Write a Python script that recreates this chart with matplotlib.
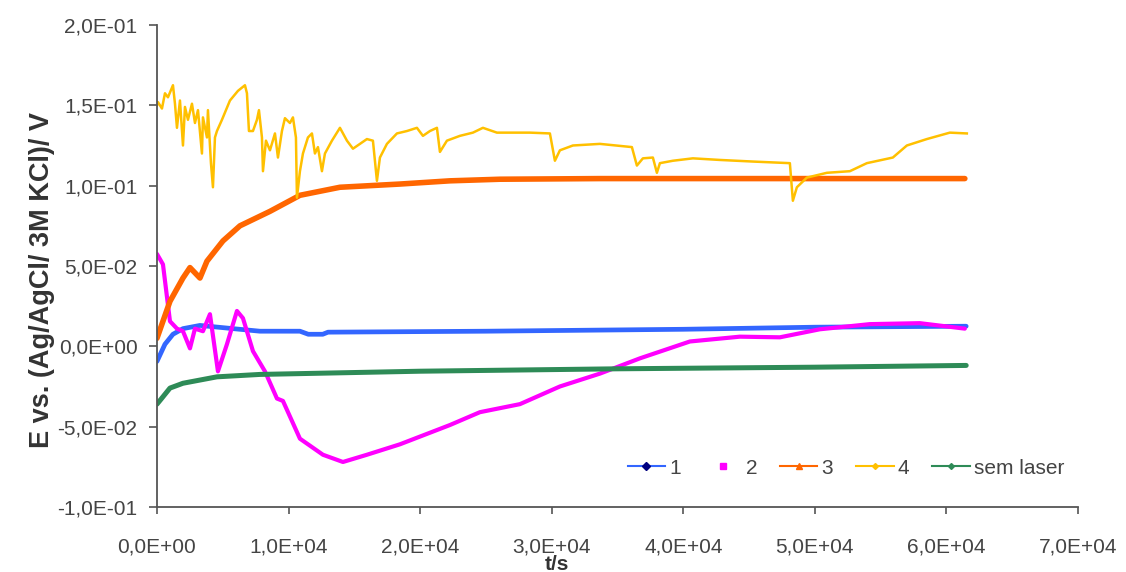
import matplotlib
matplotlib.use('Agg')
import matplotlib.pyplot as plt
from matplotlib.lines import Line2D

plt.rcParams['font.family'] = ['Liberation Sans', 'DejaVu Sans']

# series 1 (blue)
t1 = [0, 608, 1216, 1976, 3267, 5775, 7827, 10866, 11500, 12600, 13000, 25000, 40000, 50000, 61500]
e1 = [-0.0094, 0.0013, 0.0075, 0.011, 0.013, 0.011, 0.0094, 0.0094, 0.0075, 0.0075, 0.0088,
      0.0094, 0.0106, 0.0119, 0.0125]

# series 2 (magenta)
t2 = [0, 456, 988, 1520, 1976, 2508, 2888, 3495, 4027, 4635, 5319, 6079, 6535, 7295, 8207,
      9119, 9574, 10866, 12614, 14134, 15957, 18465, 22264, 24544, 27584, 30623, 33663,
      36702, 40502, 44301, 47340, 50380, 54179, 57979, 61398]
e2 = [0.0575, 0.051, 0.0156, 0.011, 0.0094, -0.0013, 0.011, 0.0094, 0.02, -0.0156, 0.0013,
      0.022, 0.0175, -0.003, -0.0156, -0.0325, -0.034, -0.0575, -0.0675, -0.072, -0.0675,
      -0.061, -0.049, -0.041, -0.036, -0.025, -0.017, -0.0075, 0.003, 0.006, 0.0056, 0.0106,
      0.0138, 0.0144, 0.011]

# series 3 (orange)
t3 = [0, 988, 1976, 2508, 3267, 3799, 5015, 6307, 8587, 10866, 13906, 18465, 22264, 26064,
      33663, 61398]
e3 = [0.005, 0.028, 0.0425, 0.049, 0.0425, 0.053, 0.0656, 0.075, 0.084, 0.094, 0.099, 0.101,
      0.103, 0.104, 0.1044, 0.1044]

# series 4 (yellow)
t4 = [0, 76, 380, 608, 836, 1216, 1368, 1520, 1748, 1976, 2128, 2356, 2660, 2888, 3116, 3419,
      3495, 3799, 3875, 4103, 4255, 4407, 4559, 4939, 5547, 6155, 6687, 6839, 6991, 7295,
      7599, 7751, 7979, 8055, 8283, 8587, 8967, 9195, 9498, 9726, 10106, 10334, 10562, 10638,
      10866, 11094, 11474, 11778, 12006, 12234, 12538, 12766, 13298, 13906, 14438, 14894,
      15426, 15957, 16413, 16717, 16945, 17477, 18237, 18997, 19757, 20213, 20745, 21277,
      21505, 22036, 23024, 24012, 24772, 25836, 27052, 28343, 29863, 30243, 30623, 31611,
      33663, 36094, 36474, 36930, 37690, 37994, 38222, 39210, 40729, 42781, 45289, 48100,
      48328, 48632, 49392, 50912, 52660, 53951, 55927, 56991, 58511, 60258, 61550]
e4 = [0.150, 0.152, 0.148, 0.1575, 0.155, 0.1625, 0.151, 0.136, 0.153, 0.125, 0.149, 0.141,
      0.151, 0.139, 0.147, 0.120, 0.1425, 0.130, 0.147, 0.114, 0.099, 0.130, 0.134, 0.141,
      0.153, 0.159, 0.1625, 0.1575, 0.134, 0.134, 0.141, 0.147, 0.130, 0.109, 0.128, 0.122,
      0.1325, 0.1175, 0.134, 0.142, 0.139, 0.1425, 0.130, 0.0925, 0.109, 0.120, 0.130,
      0.1325, 0.120, 0.124, 0.109, 0.120, 0.128, 0.136, 0.128, 0.123, 0.126, 0.129, 0.128,
      0.103, 0.1175, 0.126, 0.1325, 0.134, 0.136, 0.131, 0.134, 0.136, 0.121, 0.128, 0.131,
      0.133, 0.136, 0.133, 0.133, 0.133, 0.1325, 0.1155, 0.122, 0.125, 0.126, 0.124, 0.1125,
      0.117, 0.1175, 0.108, 0.114, 0.1155, 0.117, 0.116, 0.115, 0.114, 0.0906, 0.099, 0.105,
      0.108, 0.109, 0.114, 0.1175, 0.125, 0.129, 0.133, 0.1325]

# sem laser (green)
t5 = [0, 300, 988, 1976, 4559, 7827, 10866, 20000, 35000, 50000, 61500]
e5 = [-0.036, -0.033, -0.026, -0.023, -0.019, -0.0175, -0.017, -0.0155, -0.014, -0.013, -0.0119]

xticks = [0, 10000, 20000, 30000, 40000, 50000, 60000, 70000]
xlabels = ['0,0E+00', '1,0E+04', '2,0E+04', '3,0E+04', '4,0E+04', '5,0E+04', '6,0E+04', '7,0E+04']
yticks = [-0.1, -0.05, 0.0, 0.05, 0.1, 0.15, 0.2]
ylabels = ['-1,0E-01', '-5,0E-02', '0,0E+00', '5,0E-02', '1,0E-01', '1,5E-01', '2,0E-01']

c1, c2, c3, c4, c5 = '#3366FF', '#FF00FF', '#FF6600', '#FFC000', '#2E8B57'

fig = plt.figure(figsize=(11.26, 5.72), dpi=100)
ax = fig.add_axes([0.1394, 0.1137, 0.818, 0.8426])

ax.plot(t1, e1, color=c1, lw=3.4, solid_capstyle='round')
ax.plot(t2, e2, color=c2, lw=3.0, solid_capstyle='round', solid_joinstyle='round')
ax.plot(t3, e3, color=c3, lw=4.0, solid_capstyle='round')
ax.plot(t4, e4, color=c4, lw=1.8, solid_joinstyle='round')
ax.plot(t5, e5, color=c5, lw=3.6, solid_capstyle='round')

ax.set_xlim(0, 70000)
ax.set_ylim(-0.1, 0.2)
ax.set_xticks(xticks)
ax.set_xticklabels(xlabels)
ax.set_yticks(yticks)
ax.set_yticklabels(ylabels)

for s in ['top', 'right']:
    ax.spines[s].set_visible(False)
for s in ['left', 'bottom']:
    ax.spines[s].set_color('#555555')
    ax.spines[s].set_linewidth(1.3)
ax.tick_params(axis='y', direction='out', length=6, width=1.2, color='#555555',
               labelsize=15, labelcolor='#444444', pad=8)
ax.tick_params(axis='x', direction='out', length=5, width=1.2, color='#555555',
               labelsize=15, labelcolor='#444444', pad=17)

fig.text(42 / 1126, 1 - 280 / 572, 'E vs. (Ag/AgCl/ 3M KCl)/ V', rotation=90,
         ha='center', va='center', fontsize=19.5, fontweight='bold', color='#333333')
fig.text(557 / 1126, 1 - 564 / 572, 't/s', ha='center', va='center',
         fontsize=15, fontweight='bold', color='#333333')

handles = [
    Line2D([], [], color=c1, lw=1.5, marker='D', ms=4, mfc='#000080', mec='#000080'),
    Line2D([], [], color=c2, lw=0, marker='s', ms=4, mfc=c2, mec=c2),
    Line2D([], [], color=c3, lw=1.5, marker='^', ms=5, mfc=c3, mec=c3),
    Line2D([], [], color=c4, lw=1.5, marker='D', ms=3, mfc=c4, mec=c4),
    Line2D([], [], color=c5, lw=1.5, marker='D', ms=3, mfc=c5, mec=c5),
]
fig.legend(handles, ['1', '2', '3', '4', 'sem laser'], loc='center',
           bbox_to_anchor=(846 / 1126, 1 - 468 / 572), ncol=5, frameon=False,
           fontsize=15, handlelength=1.8, handletextpad=0.2, columnspacing=1.1,
           labelcolor='#444444')

fig.savefig('out.png', dpi=100)
